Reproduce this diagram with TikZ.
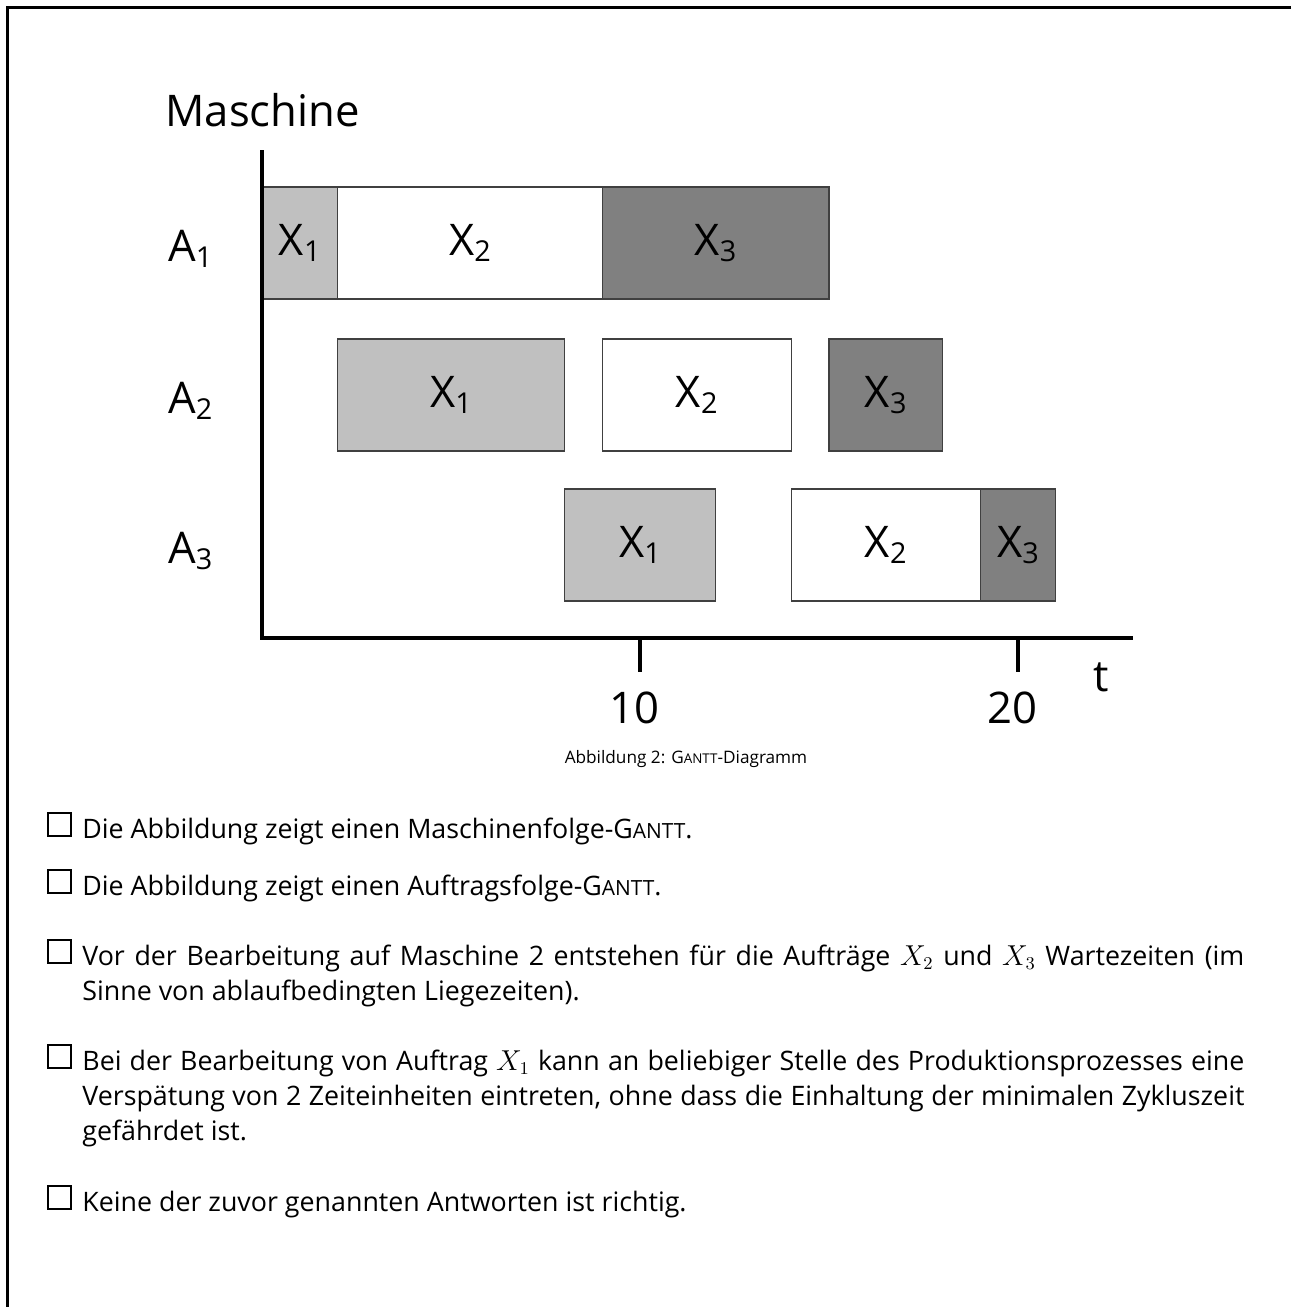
\documentclass[tikz,border=0pt]{standalone}
\usepackage{fontspec}
\setmainfont{Open Sans}
\usetikzlibrary{positioning}
% fake small caps for the name Gantt
\newcommand{\gantt}{G{\fontsize{0.78em}{1em}\selectfont ANTT}}
% subscript for the big chart labels
\newcommand{\lo}[1]{\raisebox{-0.14em}{\fontsize{0.66em}{1em}\selectfont #1}}
\definecolor{lite}{HTML}{C0C0C0}
\definecolor{dark}{HTML}{808080}
\tikzset{
  frame/.style={line width=1.5pt},
  axis/.style={line width=2pt},
  big/.style={font=\fontsize{21.8}{26}\selectfont, inner sep=0pt},
  bar/.style={draw=black!75, line width=0.6pt, inner sep=0pt, outer sep=0pt,
              minimum height=56pt, font=\fontsize{21.8}{26}\selectfont},
  chk/.style={draw=black, line width=0.9pt, minimum size=11.5pt, inner sep=0pt},
  qtext/.style={font=\fontsize{13.4}{17.5}\selectfont, inner sep=0pt, anchor=base west},
  para/.style={qtext, text width=581pt, align=justify,
               execute at begin node={\hyphenpenalty=10000\exhyphenpenalty=10000}},
}
\begin{document}
\begin{tikzpicture}[x=0.5pt, y=-0.5pt]
\useasboundingbox (0,0) rectangle (1291,1307);
% page frame: top and left rules
\coordinate (ftl) at (7,7);
\coordinate (ftr) at (1291,7);
\coordinate (fbl) at (7,1307);
\draw[frame] (ftr) -- (ftl) -- (fbl);

% axes
\coordinate (ytop) at (262,150);
\coordinate (ybot) at (262,640);
\coordinate (xstart) at (260,638);
\coordinate (xend) at (1133,638);
\draw[axis] (xstart) -- (xend);
\coordinate (t10) at (640,638);
\coordinate (t20) at (1018,638);
\draw[axis] (t10) -- ++(0,34) coordinate (t10e);
\draw[axis] (t20) -- ++(0,34) coordinate (t20e);
\node[big, anchor=base] (l10) at (634,723) {10};
\node[big, anchor=base] (l20) at (1012,723) {20};
\node[big, anchor=base] (lt) at (1101,691) {t};
\node[big, anchor=base west] (ylab) at (165,126) {Maschine};

% machine labels
\node[big, anchor=base west] (a1) at (168,261) {A\lo{1}};
\node[big, anchor=base west] (a2) at (168,413) {A\lo{2}};
\node[big, anchor=base west] (a3) at (168,563) {A\lo{3}};

% machine A1
\node[bar, fill=lite, minimum width=37.8pt]  (a1x1) at (299.8,243) {X\lo{1}};
\node[bar, fill=white, minimum width=132.3pt] (a1x2) at (469.9,243) {X\lo{2}};
\node[bar, fill=dark, minimum width=113.4pt] (a1x3) at (715.6,243) {X\lo{3}};
% machine A2
\node[bar, fill=lite, minimum width=113.4pt] (a2x1) at (451,395) {X\lo{1}};
\node[bar, fill=white, minimum width=94.5pt] (a2x2) at (696.7,395) {X\lo{2}};
\node[bar, fill=dark, minimum width=56.7pt]  (a2x3) at (885.7,395) {X\lo{3}};
% machine A3
\node[bar, fill=lite, minimum width=75.6pt]  (a3x1) at (640,545) {X\lo{1}};
\node[bar, fill=white, minimum width=94.5pt] (a3x2) at (885.7,545) {X\lo{2}};
\node[bar, fill=dark, minimum width=37.8pt]  (a3x3) at (1018,545) {X\lo{3}};
% vertical axis on top of the first bar edge
\draw[axis] (ytop) -- (ybot);

% caption
\node[font=\fontsize{8.6}{11}\selectfont, inner sep=0pt, anchor=base] (cap) at (686,763)
  {Abbildung 2: \gantt-Diagramm};

% answer options
\node[chk, anchor=south west] (c1) at (47,837) {};
\node[qtext] (q1) at (82,838) {Die Abbildung zeigt einen Maschinenfolge-\gantt.};

\node[chk, anchor=south west] (c2) at (47,894) {};
\node[qtext] (q2) at (82,895) {Die Abbildung zeigt einen Auftragsfolge-\gantt.};

\node[chk, anchor=south west] (c3) at (47,964) {};
\node[para] (q3) at (82,965) {Vor der Bearbeitung auf Maschine 2 entstehen für die Aufträge $X_2$ und $X_3$ Wartezeiten (im\linebreak Sinne von ablaufbedingten Liegezeiten).};

\node[chk, anchor=south west] (c4) at (47,1069) {};
\node[para] (q4) at (82,1070) {Bei der Bearbeitung von Auftrag $X_1$ kann an beliebiger Stelle des Produktionsprozesses eine\linebreak Verspätung von 2 Zeiteinheiten eintreten, ohne dass die Einhaltung der minimalen Zykluszeit\linebreak gefährdet ist.};

\node[chk, anchor=south west] (c5) at (47,1210) {};
\node[qtext] (q5) at (82,1211) {Keine der zuvor genannten Antworten ist richtig.};
\end{tikzpicture}
\end{document}
